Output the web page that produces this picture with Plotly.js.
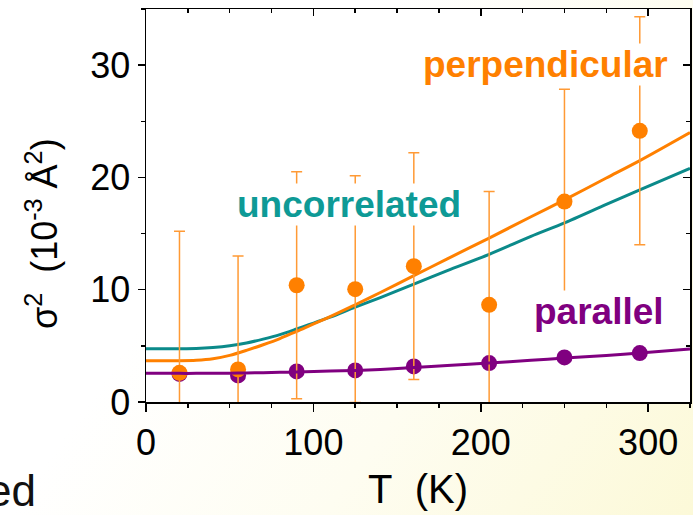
<!DOCTYPE html>
<html>
<head>
<meta charset="utf-8">
<script src="https://cdn.plot.ly/plotly-3.0.1.min.js"></script>
<style>
  html, body { margin: 0; padding: 0; }
  body { width: 693px; height: 515px; overflow: hidden;
         background: linear-gradient(125deg, #ffffff 35%, #fefdf1 65%, #fcf9d8 100%); }
  #chart { width: 693px; height: 515px; }
</style>
</head>
<body>
<div id="chart"></div>
<script>
// Measured data points (temperature in K, sigma^2 in 1e-3 A^2)
const T = [20, 55, 90, 125, 160, 205, 250, 295];
const perpValues = [2.6, 2.9, 10.4, 10.05, 12.1, 8.65, 17.85, 24.15];
const perpErrors = [12.6, 10.1, 10.1, 10.1, 10.1, 10.1, 10.0, 10.15];
const parValues = [2.5, 2.37, 2.72, 2.81, 3.17, 3.47, 3.97, 4.36];

// Fit curves
const curveT = [0, 20, 30, 40, 50, 60, 70, 80, 90, 110, 125, 140, 160, 180, 205, 230, 250, 275, 295, 325];
const uncorrFit = [4.74, 4.75, 4.77, 4.85, 5.0, 5.25, 5.6, 6.0, 6.5, 7.55, 8.45, 9.3, 10.5, 11.7, 13.15, 14.75, 15.95, 17.6, 18.9, 20.8];
const perpFit = [3.67, 3.68, 3.72, 3.85, 4.15, 4.6, 5.1, 5.65, 6.3, 7.6, 8.66, 9.75, 11.25, 12.75, 14.6, 16.5, 18.0, 19.95, 21.5, 24.0];
const parFit = [2.55, 2.55, 2.55, 2.56, 2.57, 2.59, 2.61, 2.64, 2.67, 2.75, 2.81, 2.9, 3.08, 3.25, 3.47, 3.72, 3.91, 4.15, 4.36, 4.71];

const xTicks = [0, 100, 200, 300];
const yTicks = [0, 10, 20, 30];

const ORANGE = '#ff8000';
const TEAL = '#0b8a8a';
const PURPLE = '#800080';
const FONT = 'Liberation Sans, Arial, sans-serif';

const traces = [
  { x: curveT, y: uncorrFit, mode: 'lines', line: { color: TEAL, width: 3, shape: 'spline', smoothing: 0.8 }, hoverinfo: 'skip' },
  { x: curveT, y: perpFit, mode: 'lines', line: { color: ORANGE, width: 3, shape: 'spline', smoothing: 0.8 }, hoverinfo: 'skip' },
  { x: T, y: parValues, mode: 'markers', marker: { color: PURPLE, size: 16 } },
  { x: T, y: perpValues, mode: 'markers', marker: { color: ORANGE, size: 16 },
    error_y: { type: 'data', array: perpErrors, visible: true, color: '#ff9a35', thickness: 1.5, width: 5.5 } },
  { x: curveT, y: parFit, mode: 'lines', line: { color: PURPLE, width: 3, shape: 'spline', smoothing: 0.8 }, hoverinfo: 'skip' },
  { x: [null], y: [null], xaxis: 'x2', yaxis: 'y2', mode: 'markers', hoverinfo: 'skip' }
];

const axisCommon = {
  showgrid: false, zeroline: false, showline: true, linecolor: 'black', linewidth: 1.5,
  ticks: 'outside', ticklen: 8, tickwidth: 1.5, tickcolor: 'black',
  tickfont: { family: FONT, size: 36, color: 'black' }
};

const layout = {
  width: 693, height: 515,
  paper_bgcolor: 'rgba(0,0,0,0)',
  plot_bgcolor: 'white',
  margin: { l: 146, r: 3, t: 9, b: 113 },
  showlegend: false,
  font: { family: FONT },
  xaxis: Object.assign({}, axisCommon, {
    range: [0, 325], tickmode: 'array', tickvals: xTicks, ticktext: xTicks.map(String),
    minor: { dtick: 25, tick0: 0, ticks: 'outside', ticklen: 4, tickwidth: 1.5, tickcolor: 'black' },
    title: { text: 'T\u00a0\u00a0(K)', font: { family: FONT, size: 40, color: 'black' }, standoff: 13 }
  }),
  yaxis: Object.assign({}, axisCommon, {
    range: [0, 35], tickmode: 'array', tickvals: yTicks, ticktext: yTicks.map(String),
    ticklen: 7,
    minor: { dtick: 5, tick0: 0, ticks: 'outside', ticklen: 4, tickwidth: 1.5, tickcolor: 'black' }
  }),
  xaxis2: {
    overlaying: 'x', side: 'top', range: [0, 325], showgrid: false, zeroline: false,
    showline: true, linecolor: 'black', linewidth: 1.5,
    ticks: 'inside', ticklen: 7, tickwidth: 1.5, tickcolor: 'black', showticklabels: false,
    tickmode: 'array', tickvals: xTicks,
    minor: { dtick: 25, tick0: 0, ticks: 'inside', ticklen: 4, tickwidth: 1.5, tickcolor: 'black' }
  },
  yaxis2: {
    overlaying: 'y', side: 'right', range: [0, 35], showgrid: false, zeroline: false,
    showline: true, linecolor: 'black', linewidth: 1.5,
    ticks: 'inside', ticklen: 7, tickwidth: 1.5, tickcolor: 'black', showticklabels: false,
    tickmode: 'array', tickvals: yTicks,
    minor: { dtick: 5, tick0: 0, ticks: 'inside', ticklen: 4, tickwidth: 1.5, tickcolor: 'black' }
  },
  annotations: [
    { text: '<b>perpendicular</b>', x: 238.4, y: 30.1, xref: 'x', yref: 'y', showarrow: false,
      xanchor: 'center', yanchor: 'middle',
      font: { family: FONT, size: 37, color: ORANGE }, bgcolor: 'white', borderpad: 0 },
    { text: '<b>uncorrelated</b>', x: 121, y: 17.55, xref: 'x', yref: 'y', showarrow: false,
      xanchor: 'center', yanchor: 'middle',
      font: { family: FONT, size: 37, color: '#0e9a96' }, bgcolor: 'white', borderpad: 0 },
    { text: '<b>parallel</b>', x: 270.8, y: 8.03, xref: 'x', yref: 'y', showarrow: false,
      xanchor: 'center', yanchor: 'middle',
      font: { family: FONT, size: 37, color: PURPLE }, bgcolor: 'white', borderpad: 0 },
    { text: '\u03c3<sup>2</sup>\u00a0\u00a0(10<sup>-3</sup>\u00a0\u00c5<sup>2</sup>)', textangle: -90,
      x: -0.191, y: 0.4275, xref: 'paper', yref: 'paper', showarrow: false,
      xanchor: 'center', yanchor: 'middle',
      font: { family: FONT, size: 36, color: 'black' } },
    { text: 'ed', x: -0.198, y: -0.224, xref: 'paper', yref: 'paper', showarrow: false,
      xanchor: 'right', yanchor: 'middle',
      font: { family: FONT, size: 44, color: '#111' } }
  ]
};

Plotly.newPlot('chart', traces, layout, { displayModeBar: false, staticPlot: true });
</script>
</body>
</html>
